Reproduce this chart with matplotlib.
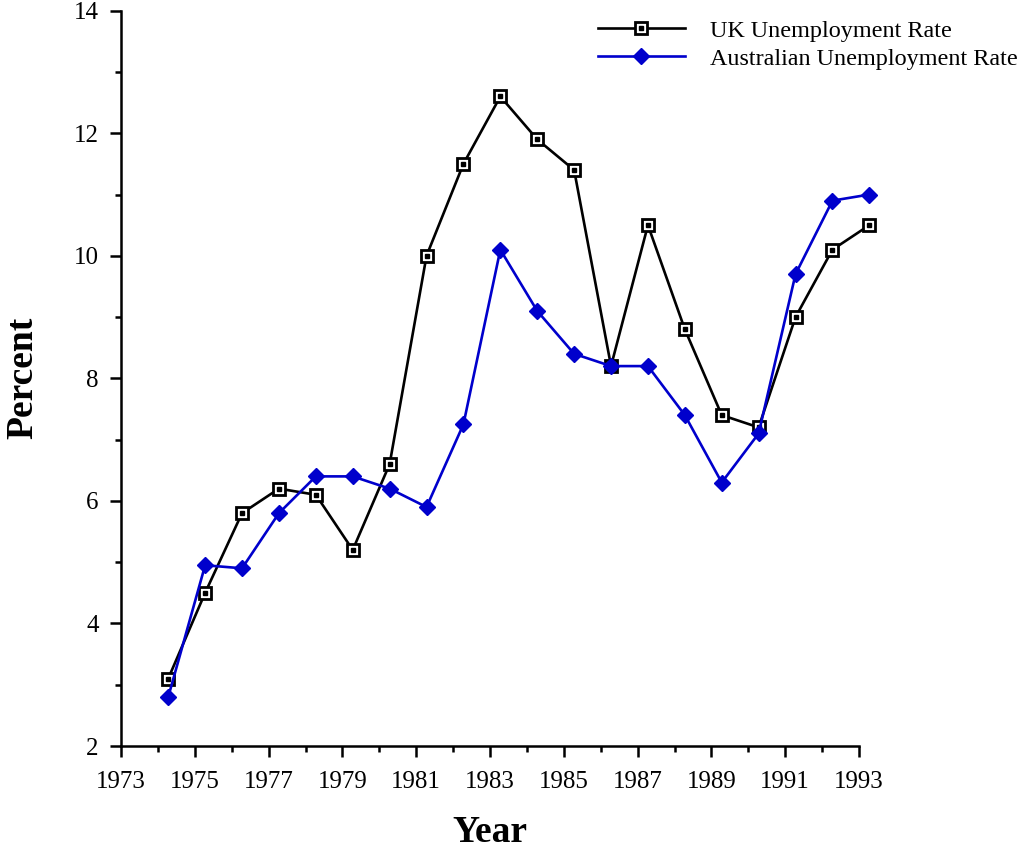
import matplotlib
matplotlib.use('Agg')
import matplotlib.pyplot as plt
from matplotlib.ticker import MultipleLocator
from matplotlib.legend_handler import HandlerTuple
import numpy as np

years = np.arange(1974, 1994)
uk_rate = [3.1, 4.5, 5.8, 6.2, 6.1, 5.2, 6.6, 10.0, 11.5, 12.6,
           11.9, 11.4, 8.2, 10.5, 8.8, 7.4, 7.2, 9.0, 10.1, 10.5]
aus_rate = [2.8, 4.95, 4.9, 5.8, 6.4, 6.4, 6.2, 5.9, 7.25, 10.1,
            9.1, 8.4, 8.2, 8.2, 7.4, 6.3, 7.1, 9.7, 10.9, 11.0]
year_ticks = list(range(1973, 1994, 2))

plt.rcParams['font.family'] = 'Liberation Serif'

fig = plt.figure(figsize=(10.28, 8.55), dpi=100)
ax = fig.add_axes([121/1028, 1 - 746/855, (859-121)/1028, (746-10.7)/855])

# points sit a bit after the year tick in the original
xpos = years + 0.28

blue = '#0000CC'
h_uk, = ax.plot(xpos, uk_rate, color='black', lw=1.9, marker='s', ms=8.5,
                mfc='white', mec='black', mew=2.0, clip_on=False, zorder=3)
h_uk_dot, = ax.plot(xpos, uk_rate, ls='none', marker='s', ms=2.2, color='black',
                    clip_on=False, zorder=4)
h_aus, = ax.plot(xpos, aus_rate, color=blue, lw=1.9, marker='D', ms=8,
                 mfc=blue, mec=blue, clip_on=False, zorder=5)

ax.set_xlim(1973, 1993)
ax.set_ylim(2, 14)
ax.set_xticks(year_ticks)
ax.xaxis.set_minor_locator(MultipleLocator(1))
ax.yaxis.set_major_locator(MultipleLocator(2))
ax.yaxis.set_minor_locator(MultipleLocator(1))

for s in ['top', 'right']:
    ax.spines[s].set_visible(False)
for s in ['left', 'bottom']:
    ax.spines[s].set_linewidth(1.8)

ax.tick_params(which='major', direction='out', length=8, width=1.8, labelsize=18)
ax.tick_params(axis='x', which='major', pad=10)
ax.tick_params(axis='y', which='major', pad=8)
ax.tick_params(which='minor', direction='out', length=4, width=1.8)

ax.set_xlabel('Year', fontsize=27, fontweight='bold', labelpad=16)
ax.set_ylabel('Percent', fontsize=27, fontweight='bold', labelpad=24)

fig.legend([(h_uk, h_uk_dot), h_aus],
           ['UK Unemployment Rate', 'Australian Unemployment Rate'],
           handler_map={tuple: HandlerTuple(ndivide=1)},
           loc='upper left', bbox_to_anchor=(588/1028, 1 - 10/855),
           frameon=False, fontsize=17.4, handlelength=3.6, handletextpad=1.05,
           labelspacing=0.25, borderaxespad=0)

fig.savefig('out.png', dpi=100)
